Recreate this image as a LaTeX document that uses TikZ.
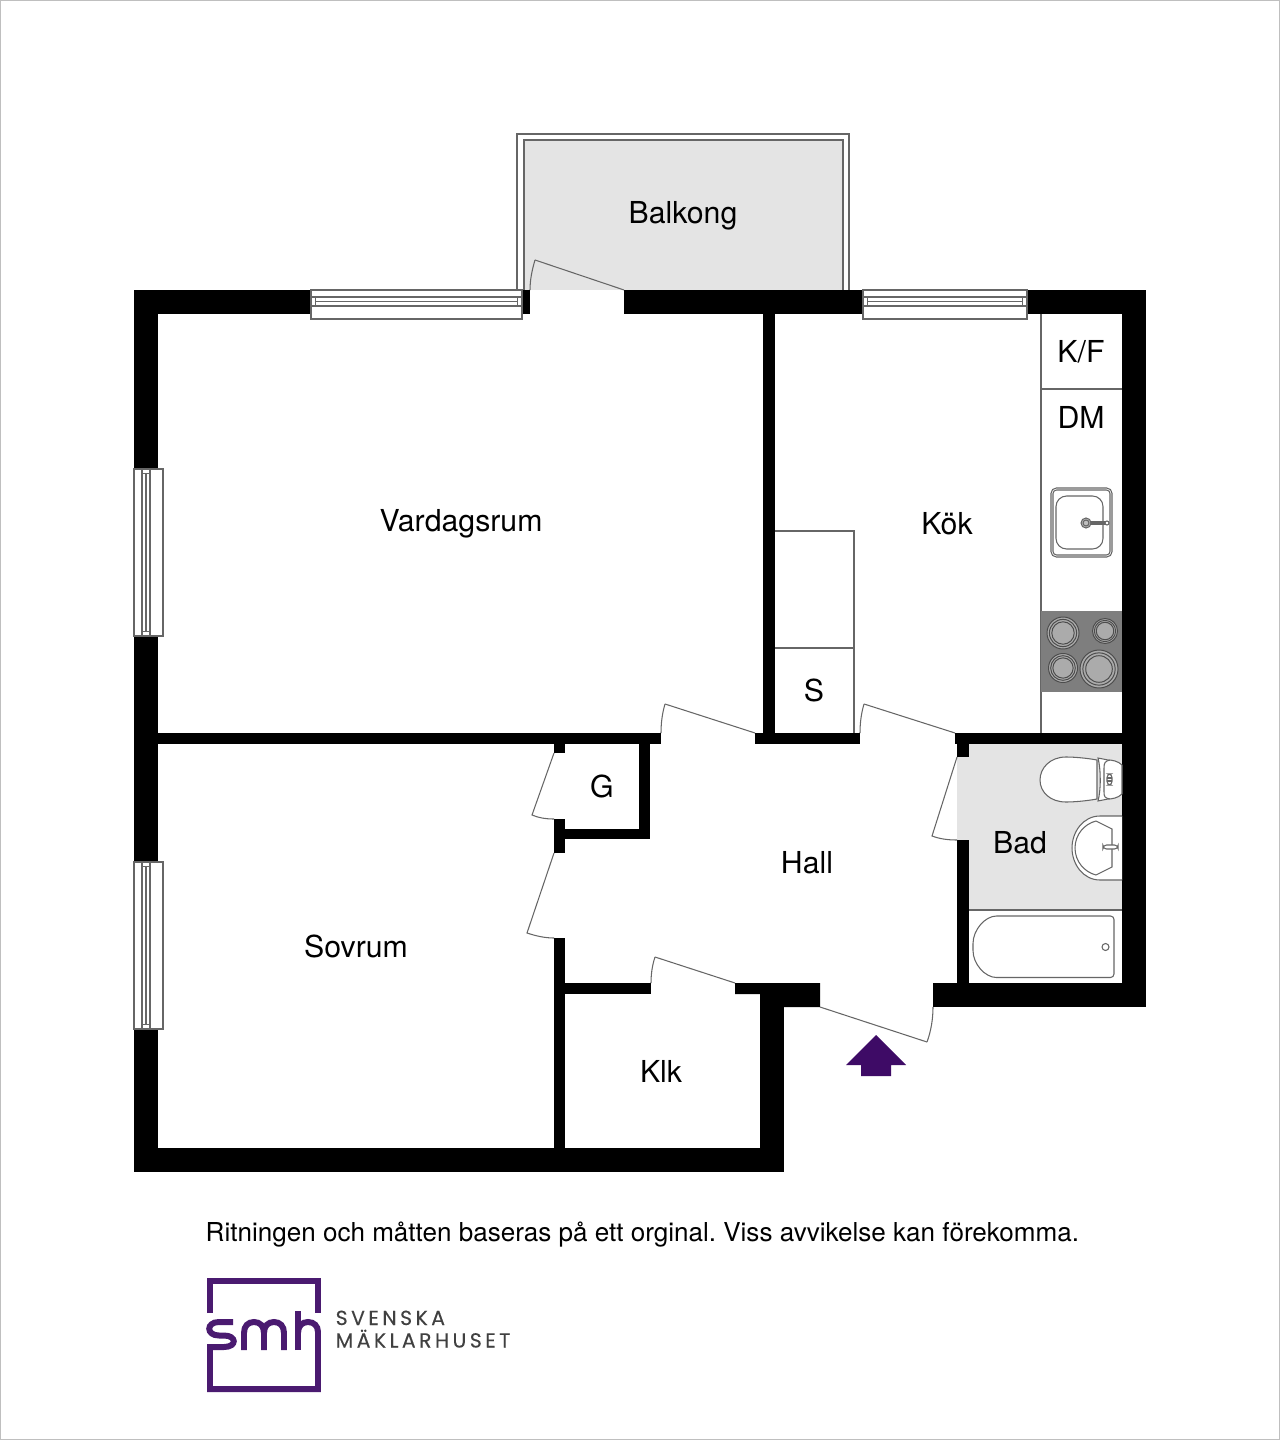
\documentclass[tikz,border=0pt]{standalone}
\usepackage{fontspec}
\setmainfont{TeX Gyre Heros}
\newfontfamily\logofont[LetterSpace=17,FakeBold=0.2]{Poppins}
\frenchspacing
\definecolor{smhpurple}{HTML}{4A1A70}
\definecolor{arrowpurple}{HTML}{3E0B66}
\definecolor{floorgray}{HTML}{E4E4E4}
\definecolor{stovegray}{HTML}{7E7E7E}
\definecolor{ringgray}{HTML}{ABABAB}
\tikzset{
    wall/.style={fill=black,draw=none},
    thinline/.style={draw=black!60,line width=0.3pt},
    fixture/.style={draw=black!60,line width=0.3pt,fill=white},
    room/.style={font=\fontsize{8.6}{10}\selectfont,inner sep=0pt},
    ring/.style={draw=black!70,fill=ringgray,line width=0.28pt},
    logoline/.style={draw=smhpurple,line width=1.7pt},
    logotext/.style={anchor=base west,inner sep=0pt,text=black!75,font=\logofont\fontsize{5.8}{7}\selectfont},
}
\newcommand{\hwindow}[2]{%
    \draw[fixture] (#1,290) rectangle (#2,319);
    \draw[thinline] (#1,297) -- (#2,297) (#1,306) -- (#2,306);
    \draw[thinline] (#1+4.5,297) -- (#1+4.5,306) (#2-4.5,297) -- (#2-4.5,306);
    \draw[thinline] (#1+4.5,301.5) -- (#2-4.5,301.5);
}
\newcommand{\vwindow}[2]{%
    \draw[fixture] (134,#1) rectangle (163,#2);
    \draw[thinline] (142,#1) -- (142,#2) (150,#1) -- (150,#2);
    \draw[thinline] (142,#1+4.5) -- (150,#1+4.5) (142,#2-4.5) -- (150,#2-4.5);
    \draw[thinline] (146,#1+4.5) -- (146,#2-4.5);
}
\begin{document}
\begin{tikzpicture}[x=0.01cm,y=-0.01cm]
    \useasboundingbox (0,0) rectangle (1280,1440);
    \draw[black!25,line width=0.3pt] (0,0) rectangle (1280,1440);

    \begin{scope}
        \draw[fixture] (517,290) -- (517,134) -- (849,134) -- (849,290);
        \fill[floorgray] (524,140) rectangle (843,290);
        \draw[thinline] (524,290) -- (524,140) -- (843,140) -- (843,290);
        \fill[floorgray] (957,744) rectangle (1122,910);
    \end{scope}

    \begin{scope}[every path/.style={wall}]
        \fill (134,290) rectangle (158,1172);
        \fill (134,290) rectangle (530,314);
        \fill (624,290) rectangle (1146,314);
        \fill (1122,290) rectangle (1146,1007);
        \fill (134,1148) rectangle (784,1172);
        \fill (760,994) rectangle (784,1172);
        \fill (735,983) -- (820,983) -- (820,1007) -- (760,1007) -- (760,994) -- (735,994) -- cycle;
        \fill (933,983) rectangle (1146,1007);
        \fill (134,733) rectangle (661,744);
        \fill (755,733) rectangle (860,744);
        \fill (955,733) rectangle (1122,744);
        \fill (763,314) rectangle (775,744);
        \fill (957,744) rectangle (969,757);
        \fill (957,840) rectangle (969,983);
        \fill (554,744) rectangle (565,753);
        \fill (554,819) rectangle (565,853);
        \fill (554,938) rectangle (565,1148);
        \fill (565,829) rectangle (650,839);
        \fill (639,744) rectangle (650,839);
        \fill (565,983) rectangle (651,994);
    \end{scope}

    \hwindow{311}{522}
    \hwindow{863}{1027}
    \vwindow{469}{636}
    \vwindow{862}{1029}

    \foreach \hingeA/\hingeB/\tipA/\tipB in {
        624/290/535/260,755/733/665/704,955/733/864/704,
        820/1007/927/1042,735/983/655/957} {
        \draw[thinline] (\hingeA,\hingeB) -- (\tipA,\tipB);
    }
    \draw[thinline] (535,260) .. controls (532,270) and (530,280) .. (530,290);
    \draw[thinline] (665,704) .. controls (662,714) and (661,724) .. (661,733);
    \draw[thinline] (864,704) .. controls (861,714) and (860,724) .. (860,733);
    \draw[thinline] (927,1042) .. controls (931,1031) and (933,1019) .. (933,1007);
    \draw[thinline] (655,957) .. controls (652,966) and (651,975) .. (651,983);
    \draw[thinline] (957,757) -- (932,836) .. controls (940,839) and (948,840) .. (957,840);
    \draw[thinline] (554,753) -- (532,815) .. controls (539,818) and (546,819) .. (554,819);
    \draw[thinline] (554,853) -- (527,933) .. controls (536,936) and (545,938) .. (554,938);

    \draw[thinline] (1041,314) -- (1041,733);
    \draw[thinline] (1041,389) -- (1122,389);
    \draw[thinline] (775,531) -- (854,531) -- (854,733);
    \draw[thinline] (775,648) -- (854,648);

    \draw[fixture,rounded corners=1.5] (1051,488) rectangle (1112,557);
    \draw[thinline,rounded corners=1] (1053,490) rectangle (1110,555);
    \draw[thinline,rounded corners=3] (1056,496) rectangle (1103,549);
    \draw[thinline,fill=black!20] (1087,522) rectangle (1105,524);
    \draw[thinline,fill=black!25] (1086,523) circle (5);
    \draw[thinline] (1086,523) circle (3);
    \draw[thinline,fill=white] (1107,523) circle (2);

    \fill[stovegray] (1041,611) rectangle (1122,692);
    \foreach \ringx/\ringy/\ringr in {1063/633/16,1105/631/12.5,1063/668/14.5,1099/669/19} {
        \draw[ring] (\ringx,\ringy) circle (\ringr);
        \draw[ring] (\ringx,\ringy) circle (\ringr*0.85);
        \draw[ring] (\ringx,\ringy) circle (\ringr*0.7);
    }

    \draw[fixture] (1097,760) .. controls (1086,758) and (1074,757) .. (1066,757)
        .. controls (1050,757) and (1040,768) .. (1040,780)
        .. controls (1040,792) and (1050,802) .. (1066,802)
        .. controls (1074,802) and (1086,801) .. (1097,799) -- cycle;
    \draw[fixture] (1122,765) .. controls (1118,761) and (1112,760) .. (1108,760) -- (1098,758)
        .. controls (1101,770) and (1101,790) .. (1098,801) -- (1108,799)
        .. controls (1112,799) and (1118,798) .. (1122,794) -- cycle;
    \draw[thinline] (1110,760) .. controls (1105,761) and (1104,763) .. (1104,768) -- (1104,792)
        .. controls (1104,797) and (1105,798) .. (1110,799);
    \draw[thinline,rounded corners=1] (1107,774) rectangle (1112,785);
    \draw[thinline] (1107,778) -- (1112,778) (1107,781) -- (1112,781);

    \draw[fixture] (1122,816) -- (1100,816) .. controls (1083,816) and (1072,832) .. (1072,848)
        .. controls (1072,864) and (1083,880) .. (1100,880) -- (1122,880);
    \draw[thinline] (1096,821) .. controls (1084,824) and (1075,835) .. (1075,848)
        .. controls (1075,861) and (1084,872) .. (1096,875);
    \draw[thinline] (1096,821) -- (1112,829) -- (1112,867) -- (1096,875);
    \draw[fixture,rounded corners=1] (1103,845) rectangle (1118,849);

    \fill[white] (969,910) rectangle (1122,983);
    \draw[thinline] (969,910) -- (1122,910);
    \draw[thinline,rounded corners=1] (1114,916) -- (1114,977.5) -- (1000,977.5)
        .. controls (985,977.5) and (973,964) .. (973,947)
        .. controls (973,930) and (985,916) .. (1000,916) -- cycle;
    \draw[thinline] (1105.5,947) circle (3.5);

    \fill[arrowpurple] (876,1035) -- (906,1065) -- (891,1065) -- (891,1076) -- (861,1076) -- (861,1065) -- (846,1065) -- cycle;

    \begin{scope}[every node/.style={room}]
        \node (balkong) at (683,216) {Balkong};
        \node (vardagsrum) at (461,524) {Vardagsrum};
        \node (kok) at (947,524) {Kök};
        \node (kf) at (1081,352) {K/F};
        \node (dm) at (1081,417.5) {DM};
        \node (s) at (814,690.5) {S};
        \node (g) at (602,786.5) {G};
        \node (hall) at (807,863) {Hall};
        \node (bad) at (1020,843) {Bad};
        \node (sovrum) at (356,946) {Sovrum};
        \node (klk) at (661,1071) {Klk};
    \end{scope}

    \node[anchor=west,inner sep=0pt,font=\fontsize{7.41}{9}\selectfont] (note) at (205,1235)
        {Ritningen och måtten baseras på ett orginal. Viss avvikelse kan förekomma.};

    \draw[logoline] (210,1313) -- (210,1281) -- (318,1281) -- (318,1313);
    \draw[logoline] (233,1322) -- (219,1322) .. controls (206,1322) and (206,1335.5) .. (219,1335.5)
        -- (224,1335.5) .. controls (237,1335.5) and (237,1347) .. (224,1347) -- (210,1347) -- (210,1389) -- (318,1389) -- (318,1332)
        .. controls (318,1326) and (314,1322) .. (308,1322) .. controls (302,1322) and (298,1326) .. (298,1333);
    \draw[logoline] (298,1350) -- (298,1311);
    \draw[logoline] (244,1350) -- (244,1333) .. controls (244,1326) and (248,1322) .. (254,1322)
        .. controls (260,1322) and (264,1326) .. (264,1333) -- (264,1350);
    \draw[logoline] (264,1333) .. controls (264,1326) and (268,1322) .. (274,1322)
        .. controls (280,1322) and (284,1326) .. (284,1333) -- (284,1350);

    \node[logotext] (smhtop) at (335,1325) {SVENSKA};
    \node[logotext] (smhbottom) at (335,1347.5) {MÄKLARHUSET};
\end{tikzpicture}
\end{document}
